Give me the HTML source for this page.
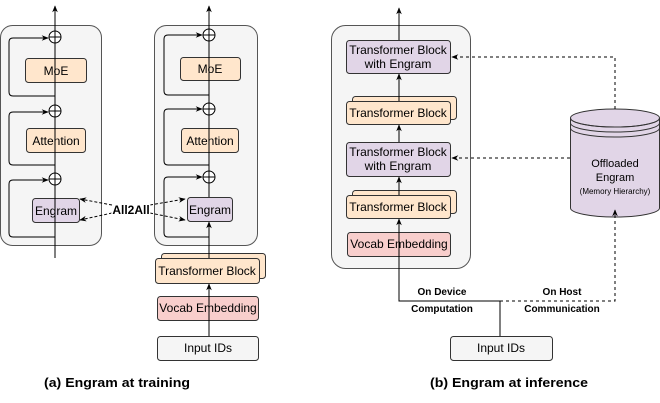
<!DOCTYPE html>
<html><head><meta charset="utf-8"><style>
html,body{margin:0;padding:0;background:#fff;}
svg{display:block;font-family:"Liberation Sans",sans-serif;}
</style></head><body>
<svg width="660" height="403" viewBox="0 0 660 403" xmlns="http://www.w3.org/2000/svg">
<defs>
<marker id="a" viewBox="0 0 10 10" refX="9" refY="5" markerWidth="7" markerHeight="7" orient="auto-start-reverse"><path d="M0,1 L10,5 L0,9 L3,5 z" fill="#000"/></marker>
</defs>
<g stroke="#333" stroke-width="1">
<rect x="0.5" y="25.5" width="101" height="220" rx="12" fill="#f5f5f5" stroke="#555"/>
<rect x="25.5" y="58.5" width="61" height="24" rx="3" fill="#ffe6cc"/>
<rect x="26.5" y="128.5" width="59" height="24" rx="3" fill="#ffe6cc"/>
<rect x="32.5" y="198.5" width="47" height="24" rx="3" fill="#e1d5e7"/>
<rect x="154.5" y="25.5" width="103" height="220" rx="12" fill="#f5f5f5" stroke="#555"/>
<rect x="180.5" y="57.5" width="60" height="23" rx="3" fill="#ffe6cc"/>
<rect x="181.5" y="128.5" width="57" height="24" rx="3" fill="#ffe6cc"/>
<rect x="187.5" y="197.5" width="45" height="24" rx="3" fill="#e1d5e7"/>
<rect x="161.5" y="253.5" width="104" height="25" rx="3" fill="#ffe6cc"/>
<rect x="155.5" y="258.5" width="104" height="25" rx="3" fill="#ffe6cc"/>
<rect x="157.5" y="296.5" width="101" height="24" rx="3" fill="#f8cecc"/>
<rect x="157.5" y="336.5" width="101" height="24" rx="3" fill="#f5f5f5"/>
<rect x="331.5" y="25.5" width="139" height="243" rx="14" fill="#f5f5f5" stroke="#555"/>
<rect x="346.5" y="40.5" width="104" height="33" rx="3" fill="#e1d5e7"/>
<rect x="352.5" y="96.5" width="104" height="23" rx="3" fill="#ffe6cc"/>
<rect x="346.5" y="101.5" width="104" height="23" rx="3" fill="#ffe6cc"/>
<rect x="346.5" y="142.5" width="104" height="34" rx="3" fill="#e1d5e7"/>
<rect x="352.5" y="190.5" width="104" height="23" rx="3" fill="#ffe6cc"/>
<rect x="346.5" y="195.5" width="104" height="23" rx="3" fill="#ffe6cc"/>
<rect x="347.5" y="232.5" width="103" height="24" rx="3" fill="#f8cecc"/>
<rect x="450.5" y="336.5" width="102" height="24" rx="3" fill="#f5f5f5"/>
<path d="M570.5,118 v90 a44.5,9 0 0 0 89,0 v-90" fill="#e1d5e7"/>
<ellipse cx="615" cy="118" rx="44.5" ry="9" fill="#e1d5e7"/>
<path d="M570.5,118 a44.5,9 0 0 0 89,0 M570.5,123 a44.5,9 0 0 0 89,0 M570.5,128 a44.5,9 0 0 0 89,0" fill="none"/>
</g>
<g stroke="#000" fill="none" stroke-width="1">
<circle cx="55" cy="37" r="6" fill="#fff"/><line x1="49" y1="37" x2="61" y2="37"/>
<circle cx="55" cy="111" r="6" fill="#fff"/><line x1="49" y1="111" x2="61" y2="111"/>
<circle cx="55" cy="179" r="6" fill="#fff"/><line x1="49" y1="179" x2="61" y2="179"/>
<line x1="55" y1="258" x2="55" y2="6" marker-end="url(#a)"/>
<path d="M55,96 H13 q-4,0 -4,-4 V42 q0,-4 4,-4 H48" marker-end="url(#a)"/>
<path d="M55,165 H13 q-4,0 -4,-4 V116 q0,-4 4,-4 H48" marker-end="url(#a)"/>
<path d="M55,237 H13 q-4,0 -4,-4 V184 q0,-4 4,-4 H48" marker-end="url(#a)"/>
<circle cx="209" cy="35" r="6" fill="#fff"/><line x1="203" y1="35" x2="215" y2="35"/>
<circle cx="209" cy="109" r="6" fill="#fff"/><line x1="203" y1="109" x2="215" y2="109"/>
<circle cx="209" cy="177" r="6" fill="#fff"/><line x1="203" y1="177" x2="215" y2="177"/>
<line x1="209" y1="336" x2="209" y2="284" marker-end="url(#a)"/>
<line x1="209" y1="258" x2="209" y2="222" marker-end="url(#a)"/>
<line x1="209" y1="197" x2="209" y2="6" marker-end="url(#a)"/>
<path d="M209,95 H168 q-4,0 -4,-4 V39 q0,-4 4,-4 H202" marker-end="url(#a)"/>
<path d="M209,165 H168 q-4,0 -4,-4 V113 q0,-4 4,-4 H202" marker-end="url(#a)"/>
<path d="M209,237 H168 q-4,0 -4,-4 V181 q0,-4 4,-4 H202" marker-end="url(#a)"/>
<g stroke-dasharray="3,2">
<path d="M112,205 L80,199" marker-end="url(#a)"/>
<path d="M112,213 L80,220" marker-end="url(#a)"/>
<path d="M150,205 L185,199" marker-end="url(#a)"/>
<path d="M150,213 L185,220" marker-end="url(#a)"/>
</g>
<path d="M500,336 V301 H399 V219" marker-end="url(#a)"/>
<line x1="399" y1="195" x2="399" y2="177" marker-end="url(#a)"/>
<line x1="399" y1="142" x2="399" y2="125" marker-end="url(#a)"/>
<line x1="399" y1="101" x2="399" y2="74" marker-end="url(#a)"/>
<line x1="399" y1="40" x2="399" y2="8" marker-end="url(#a)"/>
<g stroke-dasharray="3,3">
<path d="M500,301 H615 V210" marker-end="url(#a)"/>
<path d="M615,109 V57 H452" marker-end="url(#a)"/>
<path d="M570,158 H452" marker-end="url(#a)"/>
</g>
</g>
<g font-size="12" fill="#000" text-anchor="middle">
<text x="56" y="75">MoE</text>
<text x="56" y="145">Attention</text>
<text x="56" y="215">Engram</text>
<text x="210" y="73">MoE</text>
<text x="210" y="145">Attention</text>
<text x="210" y="214">Engram</text>
<text x="207" y="275">Transformer Block</text>
<text x="208" y="312">Vocab Embedding</text>
<text x="208" y="352">Input IDs</text>
<text x="131" y="214" font-weight="bold" style="paint-order:stroke" stroke="#fff" stroke-width="3">All2All</text>
<text x="398" y="54">Transformer Block</text>
<text x="398" y="68">with Engram</text>
<text x="398" y="117">Transformer Block</text>
<text x="398" y="156">Transformer Block</text>
<text x="398" y="170">with Engram</text>
<text x="398" y="211">Transformer Block</text>
<text x="399" y="248">Vocab Embedding</text>
<text x="501" y="352">Input IDs</text>
<text x="615" y="167" font-size="11">Offloaded</text>
<text x="615" y="181" font-size="11">Engram</text>
<text x="615" y="194" font-size="8">(Memory Hierarchy)</text>
<g font-size="10" font-weight="bold">
<text x="442" y="295">On Device</text>
<text x="442" y="312">Computation</text>
<text x="562" y="295">On Host</text>
<text x="562" y="312">Communication</text>
</g>
<g font-size="13" font-weight="bold">
<text x="117" y="387" textLength="146" lengthAdjust="spacingAndGlyphs">(a) Engram at training</text>
<text x="509" y="387" textLength="158" lengthAdjust="spacingAndGlyphs">(b) Engram at inference</text>
</g>
</g>
</svg>
</body></html>
